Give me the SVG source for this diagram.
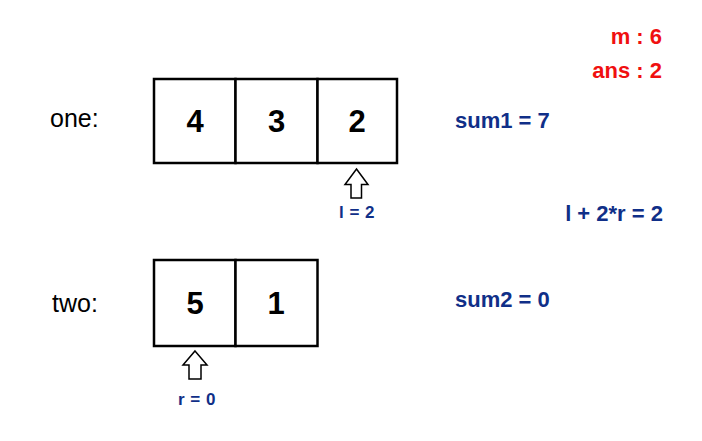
<svg xmlns="http://www.w3.org/2000/svg" width="702" height="441" viewBox="0 0 702 441">
<style>
.cell{fill:#fff;stroke:#000;stroke-width:2.5}
.num{font-family:"Liberation Sans",Arial,sans-serif;font-weight:bold;font-size:31px;fill:#000;text-anchor:middle}
.lab{font-family:"Liberation Sans",Arial,sans-serif;font-size:25px;fill:#000}
.blue{font-family:"Liberation Sans",Arial,sans-serif;font-weight:bold;font-size:22px;fill:#102f88}
.small{font-family:"Liberation Sans",Arial,sans-serif;font-weight:bold;font-size:17px;fill:#102f88;text-anchor:middle;letter-spacing:0.5px}
.red{font-family:"Liberation Sans",Arial,sans-serif;font-weight:bold;font-size:22px;fill:#f01010;text-anchor:end}
.arrow{fill:#fff;stroke:#000;stroke-width:1.5}
</style>
<rect width="702" height="441" fill="#fff"/>
<g id="label-one"><text class="lab" x="50" y="127">one:</text></g>
<g id="label-two"><text class="lab" x="52" y="312">two:</text></g>
<g id="one-0"><rect class="cell" x="154" y="79" width="81.5" height="84"/><text class="num" x="195" y="132">4</text></g>
<g id="one-1"><rect class="cell" x="235.5" y="79" width="82" height="84"/><text class="num" x="276.5" y="132">3</text></g>
<g id="one-2"><rect class="cell" x="317.5" y="79" width="79.5" height="84"/><text class="num" x="357" y="132">2</text></g>
<g id="two-0"><rect class="cell" x="154" y="260" width="81.5" height="86"/><text class="num" x="195" y="314">5</text></g>
<g id="two-1"><rect class="cell" x="235.5" y="260" width="82" height="86"/><text class="num" x="276" y="314">1</text></g>
<g id="connectors">
<path class="arrow" d="M356.5 169 L368 184.5 L361.5 184.5 L361.5 198 L351 198 L351 184.5 L345 184.5 Z"/>
<path class="arrow" d="M195 351 L207 365 L201 365 L201 379 L189 379 L189 365 L183 365 Z"/>
</g>
<g id="ptr-l"><text class="small" x="357" y="218">l = 2</text></g>
<g id="ptr-r"><text class="small" x="197" y="405">r = 0</text></g>
<g id="m"><text class="red" x="662" y="44">m : 6</text></g>
<g id="ans"><text class="red" x="662" y="78">ans : 2</text></g>
<g id="sum1"><text class="blue" x="455" y="128">sum1 = 7</text></g>
<g id="expr"><text class="blue" x="663" y="221" text-anchor="end">l + 2*r = 2</text></g>
<g id="sum2"><text class="blue" x="455" y="307">sum2 = 0</text></g>
</svg>
